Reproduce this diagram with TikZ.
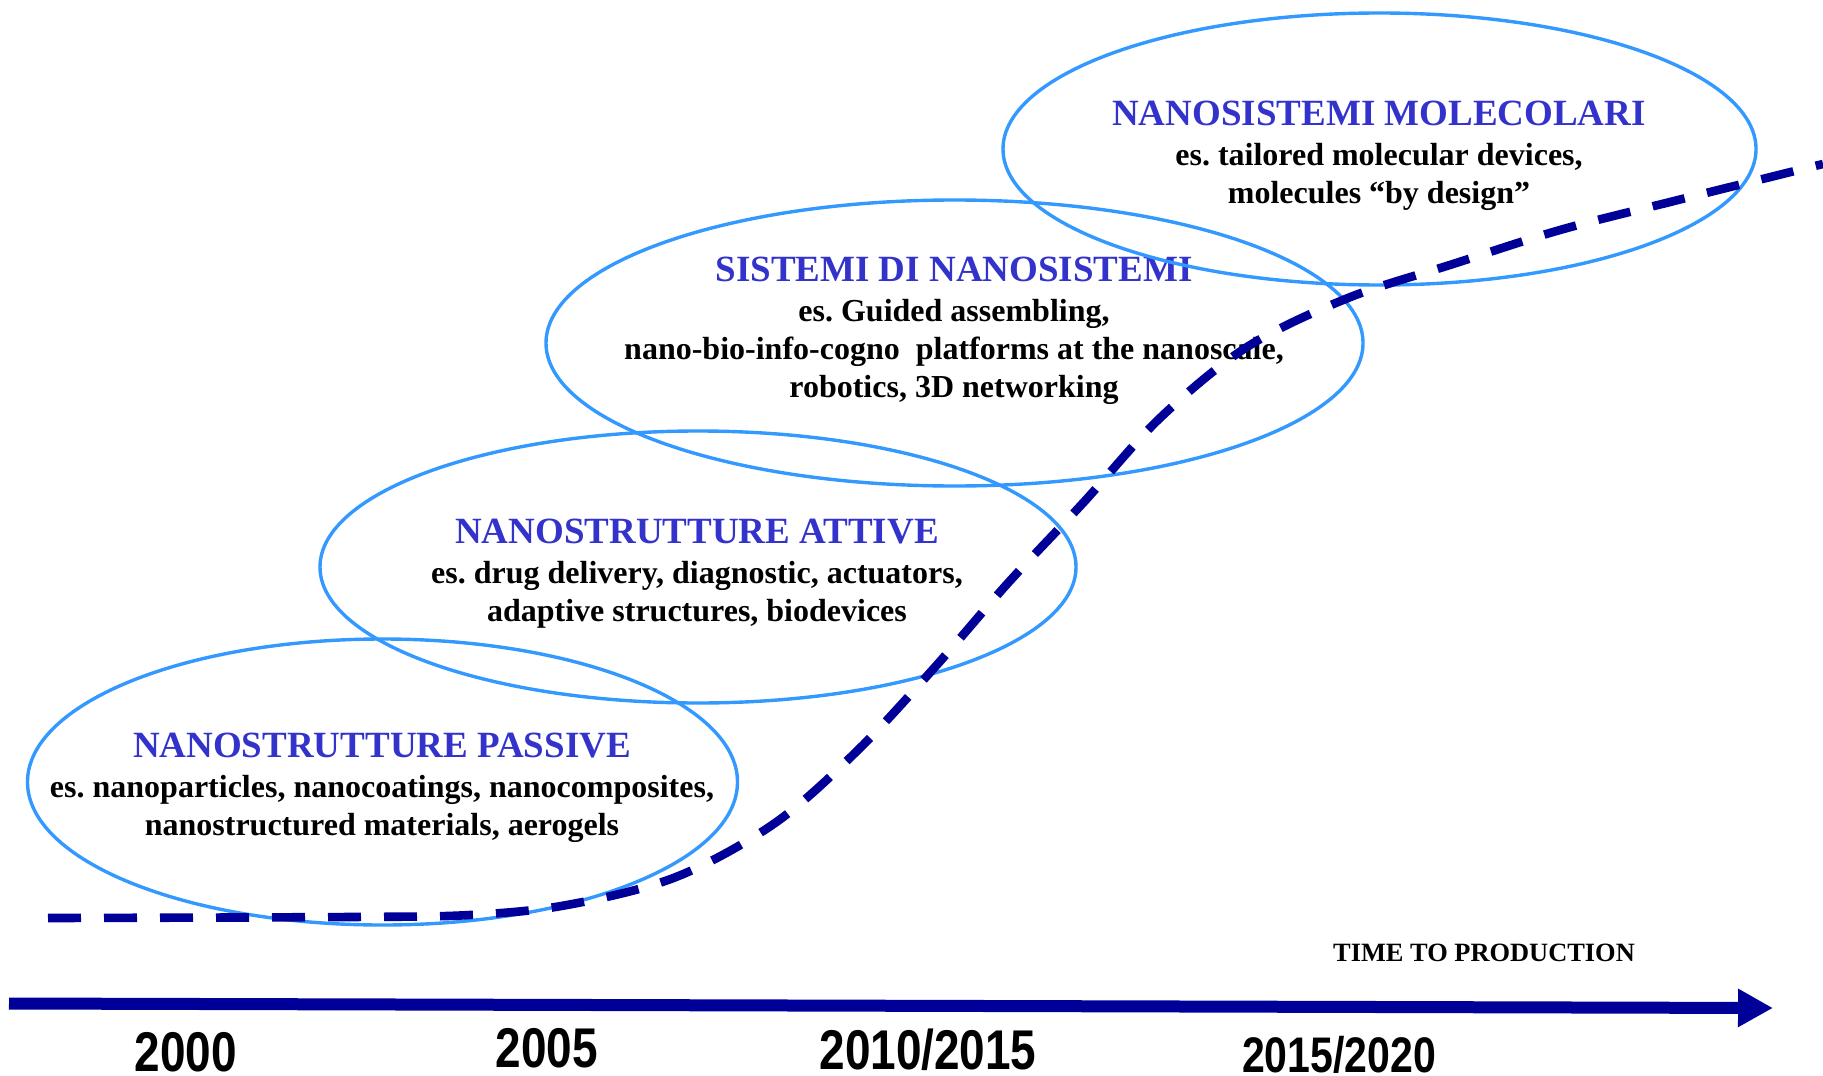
\documentclass[tikz,border=0pt]{standalone}
\usepackage{fontspec}
\setmainfont{Liberation Serif}
\newfontfamily\yearfont[FakeStretch=0.82]{Liberation Sans}
\usetikzlibrary{shapes.geometric,arrows.meta}
\definecolor{ovalblue}{RGB}{51,153,255}
\definecolor{titleblue}{RGB}{51,51,204}
\definecolor{navy}{RGB}{0,0,153}
\newcommand\ovaltitle[1]{{\color{titleblue}\fontsize{18.5}{19}\selectfont #1}}
\frenchspacing

\begin{document}
\begin{tikzpicture}[x=0.5pt,y=-0.5pt,
  oval/.style={draw=ovalblue, line width=1.7pt, ellipse, inner sep=0pt},
  blurb/.style={align=center, anchor=north, inner sep=0pt,
                font=\bfseries\fontsize{16}{19}\selectfont},
  yearlabel/.style={anchor=base, inner sep=0pt, font=\yearfont\bfseries},
  trend/.style={navy, line width=4.3pt, dash pattern=on 16.5pt off 11.5pt},
  timeline/.style={navy, line width=6pt, -{Triangle[length=17.5pt,width=18pt]}}
]
\useasboundingbox (0,0) rectangle (1823,1075);

% texts inside the four ovals
\node[blurb] (tpassive) at (382,733) {\ovaltitle{NANOSTRUTTURE PASSIVE}\\[1pt]
  es. nanoparticles, nanocoatings, nanocomposites,\\
  nanostructured materials, aerogels};
\node[blurb] (tattive) at (697,519) {\ovaltitle{NANOSTRUTTURE ATTIVE}\\[1pt]
  es. drug delivery, diagnostic, actuators,\\
  adaptive structures, biodevices};
\node[blurb] (tsistemi) at (954,257) {\ovaltitle{SISTEMI DI NANOSISTEMI}\\[1pt]
  es. Guided assembling,\\
  nano-bio-info-cogno\ \ platforms at the nanoscale,\\
  robotics, 3D networking};
\node[blurb] (tmolec) at (1379,101) {\ovaltitle{NANOSISTEMI MOLECOLARI}\\[1pt]
  es. tailored molecular devices,\\
  molecules “by design”};

% the ovals
\node[oval, minimum width=355pt, minimum height=143pt] (passive) at (382.5,782) {};
\node[oval, minimum width=378pt, minimum height=136pt] (attive) at (698,567) {};
\node[oval, minimum width=408.5pt, minimum height=143pt] (sistemi) at (954.5,343) {};
\node[oval, minimum width=376.5pt, minimum height=136pt] (molec) at (1379.5,149) {};

% S-shaped trend curve
\draw[trend] plot[smooth, tension=0.55] coordinates {
  (48,918) (350,917) (470,915) (567,905) (676,877) (775,823) (858,750)
  (935,667) (1008,583) (1083,503) (1160,418) (1247,347) (1348,298)
  (1453,264) (1560,230) (1670,202) (1823,164)};

% time axis
\coordinate (tstart) at (9,1003.5);
\coordinate (tend) at (1773,1008);
\draw[timeline] (tstart) -- (tend);
\node[anchor=base, inner sep=0pt, font=\bfseries\fontsize{13.2}{15}\selectfont]
  (ttp) at (1484,961) {TIME TO PRODUCTION};

% years
\node[yearlabel, font=\yearfont\bfseries\fontsize{28}{30}\selectfont] (y2000) at (186,1071) {2000};
\node[yearlabel, font=\yearfont\bfseries\fontsize{28}{30}\selectfont] (y2005) at (547,1067) {2005};
\node[yearlabel, font=\yearfont\bfseries\fontsize{28}{30}\selectfont] (y2010) at (928,1069) {2010/2015};
\node[yearlabel, font=\yearfont\bfseries\fontsize{25}{27}\selectfont] (y2015) at (1339,1072) {2015/2020};
\end{tikzpicture}
\end{document}
